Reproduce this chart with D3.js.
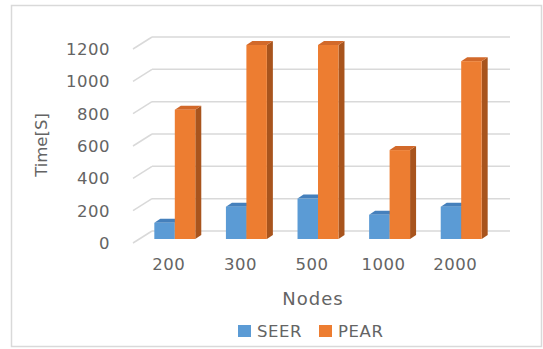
<!DOCTYPE html>
<html>
<head>
<meta charset="utf-8">
<script src="https://cdn.jsdelivr.net/npm/d3@7"></script>
<style>
  html, body { margin: 0; padding: 0; background: #fff; }
  svg text { font-family: "DejaVu Sans", sans-serif; fill: #646464; }
</style>
</head>
<body>
<svg id="chart" width="543" height="349"></svg>
<script>
// Run time per node count for the two protocols
const categories = ["200", "300", "500", "1000", "2000"];
const seerValues = [100, 200, 250, 150, 200];
const pearValues = [800, 1200, 1200, 550, 1100];
const yTicks = [0, 200, 400, 600, 800, 1000, 1200];
const seriesNames = ["SEER", "PEAR"];

const colors = {
  SEER: { front: "#5B9BD5", top: "#4580BC", side: "#3D6E9C" },
  PEAR: { front: "#ED7D31", top: "#D2692A", side: "#A8541D" }
};

const svg = d3.select("#chart");

// Outer chart border
svg.append("rect")
  .attr("x", 11.5).attr("y", 5.5)
  .attr("width", 530).attr("height", 341)
  .attr("fill", "#fff").attr("stroke", "#D9D9D9").attr("stroke-width", 1.5);

// 3D floor geometry: front edge, and depth offset to the back wall
const floorLeft = 133, floorRight = 491, floorFrontY = 243;
const depthX = 19, depthY = -12;

const x = d3.scaleBand().domain(categories).range([floorLeft, floorRight]).padding(0);
const h = d3.scaleLinear().domain([0, 1200]).range([0, 194]);

// Back-wall gridlines and the slanted side-wall segments
const grid = svg.append("g");
yTicks.forEach(v => {
  const yFront = floorFrontY - h(v);
  const yBack = yFront + depthY;
  grid.append("line")
    .attr("x1", floorLeft + depthX).attr("x2", floorRight + depthX)
    .attr("y1", yBack).attr("y2", yBack)
    .attr("stroke", "#D9D9D9").attr("stroke-width", 1.5);
  grid.append("line")
    .attr("x1", floorLeft).attr("y1", yFront)
    .attr("x2", floorLeft + depthX).attr("y2", yBack)
    .attr("stroke", "#D9D9D9").attr("stroke-width", 1.5);
});

// Value axis labels
svg.append("g").selectAll("text").data(yTicks).join("text")
  .attr("x", 110)
  .attr("y", d => floorFrontY - h(d) + 6)
  .attr("text-anchor", "end")
  .attr("font-size", 16.5)
  .attr("letter-spacing", 0.5)
  .text(d => d);

// Bars sit one third of the way into the floor depth
const barDX = 6, barDY = -4;
const sideDX = 6, sideDY = -4;
const barW = x.bandwidth() * 0.286;
const baseY = floorFrontY + barDY;

const barData = [];
categories.forEach((c, i) => {
  const cx = x(c) + x.bandwidth() / 2 + barDX;
  barData.push({ series: "SEER", cat: c, value: seerValues[i], x0: cx - barW });
  barData.push({ series: "PEAR", cat: c, value: pearValues[i], x0: cx });
});

const bars = svg.append("g").selectAll("g").data(barData).join("g");

// right side face
bars.append("path")
  .attr("d", d => {
    const xr = d.x0 + barW, yt = baseY - h(d.value);
    return `M${xr},${baseY}L${xr},${yt}L${xr + sideDX},${yt + sideDY}L${xr + sideDX},${baseY + sideDY}Z`;
  })
  .attr("fill", d => colors[d.series].side);

// top face
bars.append("path")
  .attr("d", d => {
    const yt = baseY - h(d.value);
    return `M${d.x0},${yt}L${d.x0 + sideDX},${yt + sideDY}L${d.x0 + barW + sideDX},${yt + sideDY}L${d.x0 + barW},${yt}Z`;
  })
  .attr("fill", d => colors[d.series].top);

// front face
bars.append("rect")
  .attr("x", d => d.x0)
  .attr("y", d => baseY - h(d.value))
  .attr("width", barW)
  .attr("height", d => h(d.value))
  .attr("fill", d => colors[d.series].front);

// Category labels
svg.append("g").selectAll("text").data(categories).join("text")
  .attr("x", d => x(d) + x.bandwidth() / 2)
  .attr("y", 270)
  .attr("text-anchor", "middle")
  .attr("font-size", 16.5)
  .attr("letter-spacing", 0.5)
  .text(d => d);

// Axis titles
svg.append("text")
  .attr("x", 313).attr("y", 305)
  .attr("text-anchor", "middle")
  .attr("font-size", 18)
  .attr("letter-spacing", 1)
  .text("Nodes");

svg.append("text")
  .attr("transform", "translate(47,145) rotate(-90)")
  .attr("text-anchor", "middle")
  .attr("font-size", 16.5)
  .text("Time[S]");

// Legend
const legendX = [238, 319];
const legend = svg.append("g").selectAll("g").data(seriesNames).join("g")
  .attr("transform", (d, i) => `translate(${legendX[i]},325)`);
legend.append("rect")
  .attr("width", 13).attr("height", 12)
  .attr("fill", d => colors[d].front);
legend.append("text")
  .attr("x", 19).attr("y", 12)
  .attr("font-size", 16.5)
  .attr("letter-spacing", 0.6)
  .text(d => d);
</script>
</body>
</html>
